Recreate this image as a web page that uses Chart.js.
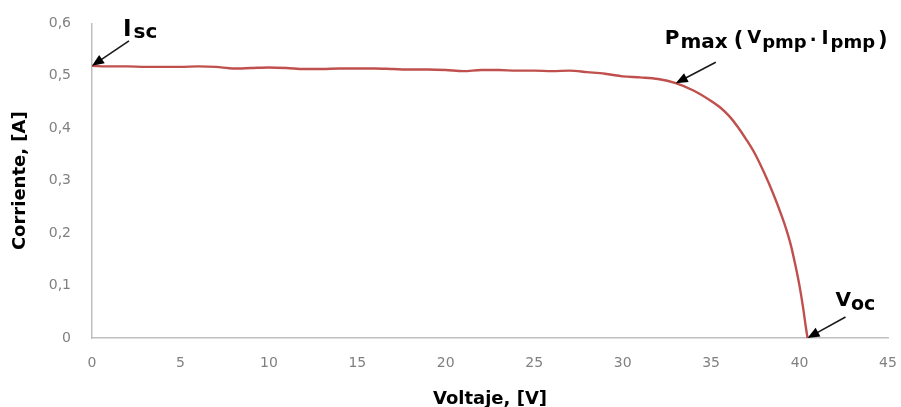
<!DOCTYPE html>
<html>
<head>
<meta charset="utf-8">
<script src="https://cdn.jsdelivr.net/npm/chart.js@4/dist/chart.umd.min.js"></script>
<style>
  html, body { margin: 0; padding: 0; background: #fff; }
  #wrap { width: 901px; height: 407px; }
</style>
</head>
<body>
<div id="wrap"><canvas id="myChart"></canvas></div>
<script>
"use strict";

// voltage (V) and current (A)

const voltaje = [0, 1, 2, 3, 4, 5, 6, 7, 8, 9, 10, 11, 12, 13, 14, 15, 16, 17, 18, 19, 20,
  21, 22, 23, 24, 25, 26, 27, 28, 29, 30, 31, 32, 33, 34, 35, 35.5, 36, 36.5, 37, 37.5,
  38, 38.5, 39, 39.25, 39.5, 39.75, 40, 40.2, 40.35, 40.45];
const corriente = [0.519, 0.518, 0.518, 0.517, 0.517, 0.517, 0.518, 0.517, 0.514, 0.515, 0.516,
  0.515, 0.513, 0.513, 0.514, 0.514, 0.514, 0.513, 0.512, 0.512, 0.511,
  0.509, 0.511, 0.511, 0.510, 0.510, 0.509, 0.510, 0.507, 0.504, 0.499, 0.497, 0.494, 0.486,
  0.472, 0.452, 0.440, 0.424, 0.403, 0.378, 0.350, 0.315, 0.276, 0.232, 0.207, 0.178, 0.141,
  0.099, 0.058, 0.022, 0];

const xTicks = [0, 5, 10, 15, 20, 25, 30, 35, 40, 45];
const yTicks = [0, 0.1, 0.2, 0.3, 0.4, 0.5, 0.6];

// marked points: Isc, Pmax, Voc
const puntos = [
  { v: 0, i: 0.519, tail: [37, -25], text: [31, -30],
    parts: [["I", 23, 0, 2], ["sc", 20, 2]] },
  { v: 33, i: 0.486, tail: [40, -21], text: [-11, -39],
    parts: [["P", 20, 0, 1], ["max", 20, 4, 6], ["(", 21, 2, 4], ["V", 18, -1, 1],
      ["pmp", 18, 4, 3], ["\u00b7", 18, 2, 5], ["I", 19, 0, 2], ["pmp", 18, 4, 3], [")", 21, 2]] },
  { v: 40.45, i: 0, tail: [38, -21], text: [28, -32],
    parts: [["V", 20, 0, 0], ["oc", 19, 4]] }
];

const points = voltaje.map((v, k) => ({ x: v, y: corriente[k] }));

function arrow(ctx, x1, y1, x2, y2) {
  const ang = Math.atan2(y2 - y1, x2 - x1);
  ctx.strokeStyle = "#1a1a1a";
  ctx.fillStyle = "#000";
  ctx.lineWidth = 1.6;
  ctx.beginPath();
  ctx.moveTo(x1, y1);
  ctx.lineTo(x2 - 8 * Math.cos(ang), y2 - 8 * Math.sin(ang));
  ctx.stroke();
  ctx.beginPath();
  ctx.moveTo(x2, y2);
  ctx.lineTo(x2 - 12 * Math.cos(ang) + 5 * Math.sin(ang), y2 - 12 * Math.sin(ang) - 5 * Math.cos(ang));
  ctx.lineTo(x2 - 12 * Math.cos(ang) - 5 * Math.sin(ang), y2 - 12 * Math.sin(ang) + 5 * Math.cos(ang));
  ctx.closePath();
  ctx.fill();
}

function label(ctx, x, y, parts) {
  // parts: [text, size, baseline shift, gap after]
  ctx.fillStyle = "#000";
  ctx.textBaseline = "alphabetic";
  ctx.textAlign = "left";
  parts.forEach(p => {
    ctx.font = "bold " + p[1] + "px 'DejaVu Sans', Verdana, sans-serif";
    ctx.fillText(p[0], x, y + p[2]);
    x += ctx.measureText(p[0]).width + (p[3] || 0);
  });
}

const notas = {
  id: "notas",
  afterDatasetsDraw(chart) {
    const ctx = chart.ctx;
    const xs = chart.scales.x, ys = chart.scales.y;
    ctx.save();
    puntos.forEach(p => {
      const px = xs.getPixelForValue(p.v);
      const py = ys.getPixelForValue(p.i);
      arrow(ctx, px + p.tail[0], py + p.tail[1], px, py);
      label(ctx, px + p.text[0], py + p.text[1], p.parts);
    });
    ctx.restore();
  }
};

const data = {
  datasets: [{
    label: "I-V",
    data: points,
    borderColor: "#c0504d",
    borderWidth: 2.4,
    pointRadius: 0,
    cubicInterpolationMode: "monotone",
    fill: false
  }]
};

const config = {
  type: "line",
  data: data,
  options: {
    responsive: false,
    animation: false,
    layout: { padding: { left: 0, top: 20, right: 13, bottom: 0 } },
    plugins: { legend: { display: false }, tooltip: { enabled: false } },
    scales: {
      x: {
        type: "linear",
        min: 0,
        max: 45,
        afterBuildTicks: s => { s.ticks = xTicks.map(v => ({ value: v })); },
        afterFit: s => { s.height = 69; s.paddingLeft = 0; s.paddingRight = 0; },
        grid: { display: false, drawTicks: true, tickLength: 5, tickColor: "#c8c8c8" },
        border: { color: "#bfbfbf", width: 1.5 },
        ticks: { color: "#808080", padding: 12, maxRotation: 0,
          font: { family: "'DejaVu Sans', Verdana, sans-serif", size: 14 } },
        title: { display: true, text: "Voltaje, [V]", color: "#000", padding: { top: 4, bottom: -3 },
          font: { family: "'DejaVu Sans', Verdana, sans-serif", size: 18, weight: "bold" } }
      },
      y: {
        min: 0,
        max: 0.6,
        afterBuildTicks: s => { s.ticks = yTicks.map(v => ({ value: v })); },
        afterFit: s => { s.width = 92; },
        grid: { display: false, drawTicks: true, tickLength: 6, tickColor: "#c8c8c8" },
        border: { color: "#bfbfbf", width: 1.5 },
        ticks: {
          color: "#808080", padding: 15,
          font: { family: "'DejaVu Sans', Verdana, sans-serif", size: 14 },
          callback: v => v === 0 ? "0" : v.toFixed(1).replace(".", ",")
        },
        title: { display: true, text: "Corriente, [A]", color: "#000", padding: { top: 10, bottom: 0 },
          font: { family: "'DejaVu Sans', Verdana, sans-serif", size: 18, weight: "bold" } }
      }
    }
  },
  plugins: [notas]
};

const canvas = document.getElementById("myChart");
canvas.width = 901;
canvas.height = 407;
const myChart = new Chart(canvas, config);
</script>
</body>
</html>
